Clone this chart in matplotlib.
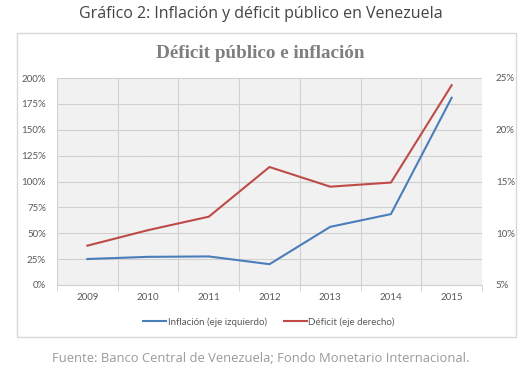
import matplotlib
matplotlib.use('Agg')
import matplotlib.pyplot as plt
from matplotlib.patches import Rectangle
from matplotlib.ticker import FuncFormatter
import numpy as np

years = ['2009', '2010', '2011', '2012', '2013', '2014', '2015']
inflacion = [25.1, 27.2, 27.6, 20.1, 56.2, 68.5, 180.9]   # % (eje izquierdo)
deficit = [8.8, 10.3, 11.6, 16.4, 14.5, 14.9, 24.3]        # % (eje derecho)

blue = '#4a7ebb'
red = '#be4b48'
tick_col = '#595959'

plt.rcParams['hatch.color'] = '#e6e6e6'
plt.rcParams['hatch.linewidth'] = 0.35

fig = plt.figure(figsize=(5.21, 3.76), dpi=100)
W, H = 521, 376

# outer frame of the chart
fig.patches.append(Rectangle((17 / W, 1 - 337 / H), 499 / W, 304 / H,
                             transform=fig.transFigure, fill=False,
                             edgecolor='#d9d9d9', linewidth=1.0))

fig.text(0.5, 1 - 14 / H, 'Gráfico 2: Inflación y déficit público en Venezuela',
         ha='center', va='center', fontsize=11.5, family='Open Sans', color='#444444')
fig.text(0.5, 1 - 53 / H, 'Déficit público e inflación', ha='center', va='center',
         fontsize=13.8, family='Liberation Serif', weight='bold', color='#7f7f7f')
fig.text(0.5, 1 - 359 / H, 'Fuente: Banco Central de Venezuela; Fondo Monetario Internacional.',
         ha='center', va='center', fontsize=9.4, family='Open Sans', color='#9a9a9a')

ax = fig.add_axes([57 / W, 1 - 285 / H, 425 / W, 207 / H])
x = np.arange(len(years))

ax.patch.set_hatch('\\' * 26)
ax.patch.set_edgecolor('#e6e6e6')
ax.patch.set_linewidth(0)

l1, = ax.plot(x, inflacion, color=blue, linewidth=1.5, label='Inflación (eje izquierdo)')
ax.set_ylim(0, 200)
ax.set_yticks(np.arange(0, 201, 25))
ax.yaxis.set_major_formatter(FuncFormatter(lambda v, p: '%d%%' % v))
ax.set_xlim(-0.5, len(years) - 0.5)
ax.set_xticks(x)
ax.set_xticklabels(years)
ax.set_xticks(np.arange(-0.5, len(years), 1), minor=True)
ax.grid(axis='y', color='#d0d0d0', linewidth=0.8)
ax.grid(axis='x', which='minor', color='#d0d0d0', linewidth=0.8)
ax.set_axisbelow(True)
ax.tick_params(axis='x', which='major', length=0, colors=tick_col, labelsize=7, pad=6)
ax.tick_params(axis='x', which='minor', length=4, color='#d0d0d0')
ax.tick_params(axis='y', length=0, colors=tick_col, labelsize=7, pad=8)
for lbl in ax.get_xticklabels() + ax.get_yticklabels():
    lbl.set_family('Lato')
for s in ax.spines.values():
    s.set_visible(False)
ax.spines['bottom'].set_visible(True)
ax.spines['bottom'].set_color('#d0d0d0')

ax2 = ax.twinx()
l2, = ax2.plot(x, deficit, color=red, linewidth=1.5, label='Déficit (eje derecho)')
ax2.set_ylim(5, 25)
ax2.set_yticks(np.arange(5, 26, 5))
ax2.yaxis.set_major_formatter(FuncFormatter(lambda v, p: '%d%%' % v))
ax2.tick_params(axis='y', length=0, colors=tick_col, labelsize=7, pad=10)
for lbl in ax2.get_yticklabels():
    lbl.set_family('Lato')
for s in ax2.spines.values():
    s.set_visible(False)

fig.legend(handles=[l1, l2], loc='center', bbox_to_anchor=(269 / W, 1 - 322 / H),
           ncol=2, frameon=False, prop={'family': 'Lato', 'size': 7}, labelcolor=tick_col,
           handlelength=2.4, handletextpad=0.15, columnspacing=1.7)

fig.savefig('out.png', dpi=100)
